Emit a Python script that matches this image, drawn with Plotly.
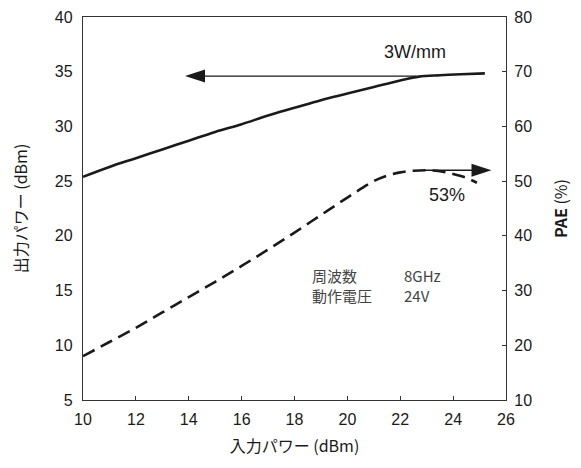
import plotly.graph_objects as go

# Data
pin_out = [10, 11, 12, 13, 14, 15, 16, 17, 18, 19, 20, 21, 22, 22.7, 23.5, 24.3, 25.2]
pout = [25.4, 26.3, 27.1, 27.9, 28.7, 29.5, 30.2, 31.0, 31.7, 32.4, 33.0, 33.6, 34.2, 34.55, 34.68, 34.77, 34.85]

pin_pae = [10, 11, 12, 13, 14, 15, 16, 17, 18, 19, 20, 21, 21.5, 22, 22.5, 23, 23.5, 24, 24.5, 24.9]
pae = [18.0, 20.6, 23.2, 26.0, 28.8, 31.6, 34.5, 37.5, 40.6, 43.8, 47.0, 50.0, 51.0, 51.6, 51.9, 52.0, 51.8, 51.3, 50.6, 49.7]

arrow_pout_x = [22.6, 13.86]
arrow_pout_y = [34.6, 34.6]
arrow_pae_x = [22.9, 25.45]
arrow_pae_y = [52.0, 52.0]

x_ticks = [10, 12, 14, 16, 18, 20, 22, 24, 26]
y1_ticks = [5, 10, 15, 20, 25, 30, 35, 40]
y2_ticks = [10, 20, 30, 40, 50, 60, 70, 80]

NUM_FONT = "Liberation Sans, Arial, sans-serif"
JP_FONT = "Noto Sans CJK JP, sans-serif"
INK = "#1a1a1a"

fig = go.Figure()
fig.add_trace(go.Scatter(x=pin_out, y=pout, mode="lines", line=dict(color=INK, width=2.6),
                         line_shape="spline", showlegend=False))
fig.add_trace(go.Scatter(x=pin_pae, y=pae, mode="lines", yaxis="y2",
                         line=dict(color=INK, width=2.6, dash="13px,7px"),
                         line_shape="spline", showlegend=False))
arrow_marker = dict(symbol="arrow", angleref="previous", size=[0, 21], color=INK,
                    line=dict(width=0), opacity=1)
fig.add_trace(go.Scatter(x=arrow_pout_x, y=arrow_pout_y, mode="lines+markers",
                         line=dict(color=INK, width=1.4), marker=arrow_marker, showlegend=False))
fig.add_trace(go.Scatter(x=arrow_pae_x, y=arrow_pae_y, mode="lines+markers", yaxis="y2",
                         line=dict(color=INK, width=1.4), marker=arrow_marker, showlegend=False))

axis_common = dict(showline=True, linecolor="#333", linewidth=1.3, showgrid=False, zeroline=False,
                   automargin=False, ticklabeloverflow="allow",
                   tickfont=dict(family=NUM_FONT, size=16, color=INK))

# the page body has an 8px margin, so the figure is sized/offset accordingly
fig.update_layout(
    width=573, height=460,
    margin=dict(l=75, r=75, t=9, b=68),
    paper_bgcolor="white", plot_bgcolor="white",
    xaxis=dict(range=[10, 26], tickvals=x_ticks, ticks="inside", ticklen=4, tickcolor="#333",
               mirror=True, ticklabelstandoff=5,
               title=dict(text="入力パワー (dBm)", font=dict(family=JP_FONT, size=16, color=INK), standoff=13),
               **axis_common),
    yaxis=dict(range=[5, 40], tickvals=y1_ticks, ticks="", mirror=True, ticklabelstandoff=6,
               title=dict(text="出力パワー (dBm)", font=dict(family=JP_FONT, size=16, color=INK), standoff=34),
               **axis_common),
    yaxis2=dict(range=[10, 80], tickvals=y2_ticks, overlaying="y", side="right", ticks="inside",
                ticklen=4, tickcolor="#333", ticklabelstandoff=4,
                title=dict(text="<b>PAE</b> (%)", font=dict(family=JP_FONT, size=16, color=INK), standoff=24),
                **axis_common),
)

ann_font = dict(family=NUM_FONT, size=18, color=INK)
txt_font = dict(family=JP_FONT, size=15, color="#444")
fig.add_annotation(x=22.54, y=36.82, text="3W/mm", showarrow=False, font=ann_font)
fig.add_annotation(x=23.77, y=23.7, text="53%", showarrow=False, font=ann_font)
fig.add_annotation(x=18.59, y=15.5, text="周波数<br>動作電圧", showarrow=False, xanchor="left",
                   align="left", font=txt_font)
fig.add_annotation(x=22.05, y=15.5, text="8GHz<br>24V", showarrow=False, xanchor="left",
                   align="left", font=txt_font)

fig.write_html("out.html")
